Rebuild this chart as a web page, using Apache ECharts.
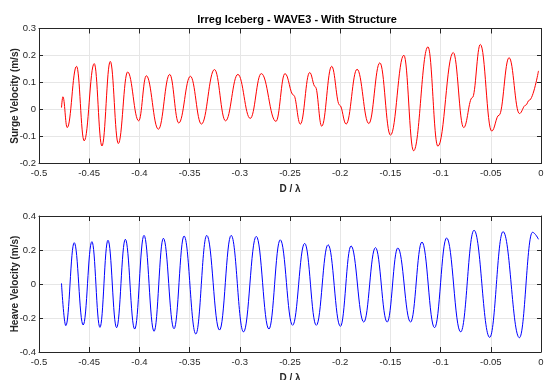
<!DOCTYPE html>
<html>
<head>
<meta charset="utf-8">
<script src="https://cdn.jsdelivr.net/npm/echarts@6/dist/echarts.min.js"></script>
<style>html,body{margin:0;padding:0;background:#fff}#c{width:544px;height:380px}</style>
</head>
<body>
<div id="c"></div>
<script>
const titleText = 'Irreg Iceberg - WAVE3 - With Structure';
const xName = 'D / \u03bb';
const surgeName = 'Surge Velocity (m/s)';
const heaveName = 'Heave Velocity (m/s)';

const surgeX = [-0.4776, -0.4762, -0.4719, -0.4626, -0.4550, -0.4450, -0.4373, -0.4290, -0.4210, -0.4117, -0.4007, -0.3931, -0.3811, -0.3698, -0.3608, -0.3492, -0.3382, -0.3252, -0.3142, -0.3019, -0.2896, -0.2786, -0.2640, -0.2550, -0.2464, -0.2397, -0.2304, -0.2248, -0.2184, -0.2085, -0.2005, -0.1941, -0.1832, -0.1715, -0.1605, -0.1499, -0.1366, -0.1269, -0.1126, -0.1027, -0.0874, -0.0770, -0.0684, -0.0604, -0.0491, -0.0418, -0.0318, -0.0215, -0.0152, -0.0118, -0.0025];
const surgeY = [0.007, 0.047, -0.067, 0.160, -0.116, 0.170, -0.135, 0.178, -0.126, 0.139, -0.042, 0.125, -0.073, 0.130, -0.050, 0.123, -0.054, 0.148, -0.042, 0.130, -0.033, 0.133, -0.044, 0.133, 0.053, -0.054, 0.137, 0.084, -0.062, 0.160, 0.016, -0.054, 0.149, -0.052, 0.173, -0.095, 0.201, -0.153, 0.232, -0.136, 0.211, -0.067, 0.044, 0.241, -0.080, -0.021, 0.192, -0.015, 0.016, 0.034, 0.143];

const heaveX = [-0.4776, -0.4733, -0.4649, -0.4560, -0.4473, -0.4393, -0.4313, -0.4227, -0.4140, -0.4047, -0.3954, -0.3854, -0.3761, -0.3655, -0.3555, -0.3438, -0.3329, -0.3202, -0.3086, -0.2963, -0.2836, -0.2710, -0.2597, -0.2474, -0.2354, -0.2238, -0.2121, -0.1998, -0.1892, -0.1765, -0.1649, -0.1532, -0.1426, -0.1299, -0.1186, -0.1060, -0.0940, -0.0800, -0.0667, -0.0511, -0.0378, -0.0215, -0.0085, -0.0025];
const heaveY = [0.004, -0.245, 0.243, -0.241, 0.249, -0.255, 0.257, -0.257, 0.263, -0.265, 0.286, -0.278, 0.269, -0.263, 0.282, -0.294, 0.286, -0.271, 0.286, -0.282, 0.280, -0.265, 0.260, -0.243, 0.239, -0.243, 0.231, -0.249, 0.224, -0.224, 0.214, -0.224, 0.212, -0.224, 0.247, -0.257, 0.271, -0.282, 0.316, -0.314, 0.308, -0.316, 0.304, 0.263];

const surgeRange = [-0.2, 0.3, 0.1];
const heaveRange = [-0.4, 0.4, 0.2];
const xRange = [-0.5, 0, 0.05];

const FONT = "'Liberation Sans Narrow', 'Liberation Sans', Arial, sans-serif";
const AX = '#262626';
const GRIDC = '#e6e6e6';

function zip(a, b) { return a.map((v, i) => [v, b[i]]); }

function xAxes(gi) {
  return [{
    gridIndex: gi, type: 'value', min: xRange[0], max: xRange[1], interval: xRange[2], position: 'bottom',
    axisLine: { show: true, onZero: false, lineStyle: { color: AX, width: 1 } },
    axisTick: { show: true, inside: true, length: 5, lineStyle: { color: AX } },
    axisLabel: { show: true, color: AX, fontSize: 9.5, fontFamily: FONT, margin: 5 },
    splitLine: { show: true, lineStyle: { color: GRIDC, width: 1 } },
    name: xName, nameLocation: 'middle', nameGap: 21, nameMoveOverlap: false,
    nameTextStyle: { color: AX, fontSize: 10, fontWeight: 'bold', fontFamily: FONT }
  }, {
    gridIndex: gi, type: 'value', min: xRange[0], max: xRange[1], interval: xRange[2], position: 'top',
    axisLine: { show: true, onZero: false, lineStyle: { color: AX, width: 1 } },
    axisTick: { show: true, inside: true, length: 5, lineStyle: { color: AX } },
    axisLabel: { show: false }, splitLine: { show: false }
  }];
}
function yAxes(gi, r, name) {
  return [{
    gridIndex: gi, type: 'value', min: r[0], max: r[1], interval: r[2], position: 'left',
    axisLine: { show: true, onZero: false, lineStyle: { color: AX, width: 1 } },
    axisTick: { show: true, inside: true, length: 4, lineStyle: { color: AX } },
    axisLabel: { show: true, color: AX, fontSize: 9.5, fontFamily: FONT, margin: 3 },
    splitLine: { show: true, lineStyle: { color: GRIDC, width: 1 } },
    name: name, nameLocation: 'middle', nameGap: 19, nameMoveOverlap: false,
    nameTextStyle: { color: AX, fontSize: 10, fontWeight: 'bold', fontFamily: FONT }
  }, {
    gridIndex: gi, type: 'value', min: r[0], max: r[1], interval: r[2], position: 'right',
    axisLine: { show: true, onZero: false, lineStyle: { color: AX, width: 1 } },
    axisTick: { show: true, inside: true, length: 4, lineStyle: { color: AX } },
    axisLabel: { show: false }, splitLine: { show: false }
  }];
}

const chart = echarts.init(document.getElementById('c'), null, { renderer: 'canvas' });
chart.setOption({
  animation: false,
  backgroundColor: '#ffffff',
  title: {
    text: titleText, left: 292, top: 9, textAlign: 'center',
    textStyle: { fontSize: 11, fontWeight: 'bold', color: '#000', fontFamily: FONT }
  },
  grid: [
    { left: 39, right: 3, top: 28.5, height: 135, containLabel: false, outerBoundsMode: 'none' },
    { left: 39, right: 3, top: 216, height: 136, containLabel: false, outerBoundsMode: 'none' }
  ],
  xAxis: [].concat(xAxes(0), xAxes(1)),
  yAxis: [].concat(yAxes(0, surgeRange, surgeName), yAxes(1, heaveRange, heaveName)),
  series: [{
    type: 'line', xAxisIndex: 0, yAxisIndex: 0, data: zip(surgeX, surgeY),
    showSymbol: false, smooth: 0.42, smoothMonotone: 'x',
    lineStyle: { color: '#ff0000', width: 1 }, silent: true
  }, {
    type: 'line', xAxisIndex: 2, yAxisIndex: 2, data: zip(heaveX, heaveY),
    showSymbol: false, smooth: 0.42, smoothMonotone: 'x',
    lineStyle: { color: '#0000ff', width: 1 }, silent: true
  }]
});
</script>
</body>
</html>
